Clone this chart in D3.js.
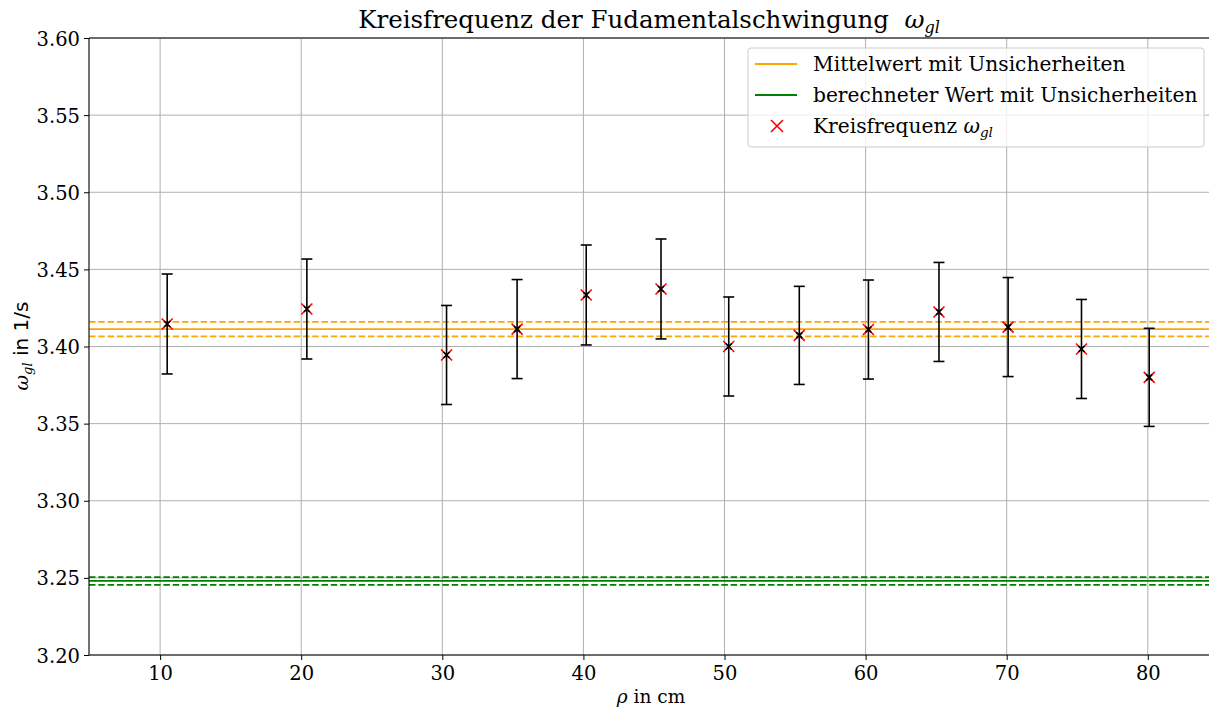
<!DOCTYPE html>
<html>
<head>
<meta charset="utf-8">
<script src="https://cdn.jsdelivr.net/npm/d3@7/dist/d3.min.js"></script>
<style>
  html, body { margin: 0; padding: 0; background: #fff; }
  svg { display: block; }
  text { font-family: "DejaVu Serif", serif; fill: #000; }
</style>
</head>
<body>
<svg id="chart" width="1209" height="708"></svg>
<script>
// Measured angular frequencies of the fundamental oscillation
const rho = [10.5, 20.4, 30.3, 35.3, 40.2, 45.5, 50.3, 55.3, 60.2, 65.2, 70.1, 75.3, 80.1];
const omega = [3.4146, 3.4243, 3.3945, 3.4113, 3.4334, 3.4373, 3.4000, 3.4072, 3.4110, 3.4224, 3.4126, 3.3984, 3.3800];
const omegaErr = [0.0324, 0.0324, 0.0321, 0.0321, 0.0324, 0.0324, 0.0321, 0.0318, 0.0321, 0.0321, 0.0321, 0.0321, 0.0318];

// Mean value and theoretical value with their uncertainties
const meanValue = 3.4112, meanErr = 0.0047;
const calcValue = 3.2480, calcErr = 0.0025;

const xTicks = [10, 20, 30, 40, 50, 60, 70, 80];
const yTicks = [3.20, 3.25, 3.30, 3.35, 3.40, 3.45, 3.50, 3.55, 3.60];

const svg = d3.select("#chart");
const plotL = 89, plotR = 1212, plotT = 38, plotB = 655;

const x = d3.scaleLinear().domain([4.96, 84.55]).range([plotL, plotR]);
const y = d3.scaleLinear().domain([3.20, 3.60]).range([plotB, plotT]);

// grid
const grid = svg.append("g").attr("stroke", "#b0b0b0").attr("stroke-width", 1);
xTicks.forEach(t => grid.append("line")
  .attr("x1", x(t)).attr("x2", x(t)).attr("y1", plotT).attr("y2", plotB));
yTicks.forEach(t => grid.append("line")
  .attr("x1", plotL).attr("x2", plotR).attr("y1", y(t)).attr("y2", y(t)));

// horizontal reference lines
function hband(value, err, color) {
  const g = svg.append("g").attr("stroke", color).attr("stroke-width", 1.8).attr("fill", "none");
  g.append("line").attr("x1", plotL).attr("x2", plotR).attr("y1", y(value)).attr("y2", y(value));
  [value + err, value - err].forEach(v => g.append("line")
    .attr("x1", plotL).attr("x2", plotR).attr("y1", y(v)).attr("y2", y(v))
    .attr("stroke-dasharray", "6.5,2.8"));
}
hband(meanValue, meanErr, "#ffa500");
hband(calcValue, calcErr, "#008000");

// data points: red crosses
const pts = rho.map((r, i) => ({ r, w: omega[i], e: omegaErr[i] }));
const cross = (g, s) => g.append("path").attr("d", `M${-s},${-s}L${s},${s}M${-s},${s}L${s},${-s}`);

const marks = svg.append("g");
pts.forEach(p => {
  const g = marks.append("g").attr("transform", `translate(${x(p.r)},${y(p.w)})`);
  cross(g, 5.5).attr("stroke", "#ff0000").attr("stroke-width", 1.6);
});

// error bars
const eb = svg.append("g").attr("stroke", "#000").attr("stroke-width", 1.6).attr("fill", "none");
pts.forEach(p => {
  const cx = x(p.r);
  eb.append("line").attr("x1", cx).attr("x2", cx).attr("y1", y(p.w + p.e)).attr("y2", y(p.w - p.e));
  [p.w + p.e, p.w - p.e].forEach(v => eb.append("line")
    .attr("x1", cx - 5.5).attr("x2", cx + 5.5).attr("y1", y(v)).attr("y2", y(v)));
  const g = eb.append("g").attr("transform", `translate(${cx},${y(p.w)})`);
  cross(g, 3).attr("stroke-width", 1.6);
});

// axes
const xAxis = svg.append("g").attr("transform", `translate(0,${plotB})`)
  .call(d3.axisBottom(x).tickValues(xTicks).tickFormat(d3.format("d")).tickSize(5).tickPadding(4));
const yAxis = svg.append("g").attr("transform", `translate(${plotL},0)`)
  .call(d3.axisLeft(y).tickValues(yTicks).tickFormat(d3.format(".2f")).tickSize(5).tickPadding(4));
[xAxis, yAxis].forEach(a => {
  a.select(".domain").remove();
  a.selectAll("text").attr("font-family", "DejaVu Serif").attr("font-size", 19.5).attr("fill", "#000");
  a.selectAll("line").attr("stroke", "#000");
});
yAxis.selectAll("text").attr("dy", "0.36em");
xAxis.selectAll("text").attr("dy", "0.82em");

// spines
const sp = svg.append("g").attr("stroke", "#000").attr("stroke-width", 1.1);
sp.append("line").attr("x1", plotL).attr("x2", plotR).attr("y1", plotB).attr("y2", plotB);
sp.append("line").attr("x1", plotL).attr("x2", plotR).attr("y1", plotT).attr("y2", plotT);
sp.append("line").attr("x1", plotL).attr("x2", plotL).attr("y1", plotT).attr("y2", plotB);

// title
const title = svg.append("text").attr("x", 649).attr("y", 28).attr("text-anchor", "middle")
  .attr("font-size", 24.5);
title.append("tspan").text("Kreisfrequenz der Fudamentalschwingung\u00a0\u00a0");
title.append("tspan").attr("font-style", "italic").text("ω");
title.append("tspan").attr("font-style", "italic").attr("font-size", 16).attr("dy", 5).text("gl");

// x label
const xl = svg.append("text").attr("x", 651).attr("y", 703).attr("text-anchor", "middle").attr("font-size", 18.5);
xl.append("tspan").attr("font-style", "italic").text("ρ");
xl.append("tspan").text(" in cm");

// y label
const yl = svg.append("text").attr("transform", `translate(28,346) rotate(-90)`)
  .attr("text-anchor", "middle").attr("font-size", 20);
yl.append("tspan").attr("font-style", "italic").attr("font-size", 19).text("ω");
yl.append("tspan").attr("font-style", "italic").attr("font-size", 13).attr("dy", 4).text("gl");
yl.append("tspan").attr("dy", -4).attr("font-family", "DejaVu Sans").text(" in 1/s");

// legend
const lg = svg.append("g").attr("transform", "translate(748,48)");
lg.append("rect").attr("width", 456).attr("height", 99).attr("rx", 3)
  .attr("fill", "#fff").attr("fill-opacity", 0.8).attr("stroke", "#cccccc");
const entries = [
  { label: "Mittelwert mit Unsicherheiten", color: "#ffa500", kind: "line" },
  { label: "berechneter Wert mit Unsicherheiten", color: "#008000", kind: "line" },
  { label: "Kreisfrequenz ", color: "#ff0000", kind: "cross" }
];
entries.forEach((e, i) => {
  const cy = 16 + i * 31;
  if (e.kind === "line") {
    lg.append("line").attr("x1", 7).attr("x2", 49).attr("y1", cy).attr("y2", cy)
      .attr("stroke", e.color).attr("stroke-width", 1.8);
  } else {
    const g = lg.append("g").attr("transform", `translate(29,${cy})`);
    cross(g, 6).attr("stroke", e.color).attr("stroke-width", 1.6);
  }
  const t = lg.append("text").attr("x", 65).attr("y", cy + 7).attr("font-size", 20.2);
  t.append("tspan").text(e.label);
  if (e.kind === "cross") {
    t.append("tspan").attr("font-style", "italic").text("ω");
    t.append("tspan").attr("font-style", "italic").attr("font-size", 13.5).attr("dy", 4).text("gl");
  }
});
</script>
</body>
</html>
